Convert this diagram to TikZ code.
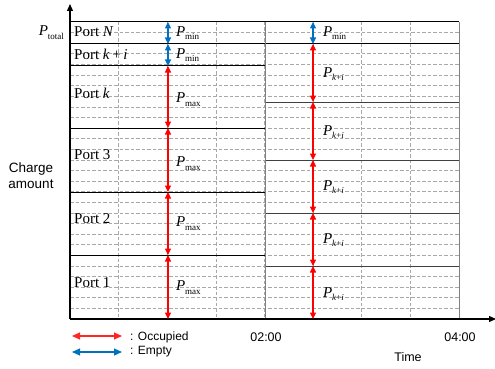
\documentclass[tikz,border=0pt]{standalone}
\usepackage{fontspec}
\setmainfont{Liberation Serif}
\setsansfont{Liberation Sans}
\usetikzlibrary{arrows.meta}
\definecolor{occ}{HTML}{FF0000}
\definecolor{emp}{HTML}{0070C0}
\definecolor{gridc}{HTML}{A8A8A8}
\definecolor{rline}{HTML}{404040}
\newcommand{\Psub}[1]{\textit{P}\kern-0.2pt\raisebox{-0.55ex}{\fontsize{9}{9}\selectfont #1}}
\newcommand{\Pki}{\textit{P}\kern-0.2pt\raisebox{-0.55ex}{\fontsize{9}{9}\selectfont\textit{k}+\textit{i}}}
\begin{document}
\begin{tikzpicture}[x=1pt,y=-1pt,
  gridline/.style={draw=gridc, dash pattern=on 3.5pt off 2pt, line width=0.7pt},
  leftsep/.style={draw=black, line width=1pt},
  rightsep/.style={draw=rline, line width=1pt},
  vsep/.style={draw=gray, line width=0.9pt},
  axis/.style={draw=black, line width=1.2pt, -{Triangle[width=6pt,length=7pt]}},
  occarrow/.style={draw=occ, line width=1.1pt, {Triangle[width=6pt,length=6.5pt]}-{Triangle[width=6pt,length=6.5pt]}},
  emparrow/.style={draw=emp, line width=1.1pt, {Triangle[width=6pt,length=6.5pt]}-{Triangle[width=6pt,length=6.5pt]}},
  portlbl/.style={anchor=west, inner sep=0pt, font=\fontsize{15}{15}\selectfont},
  plbl/.style={anchor=west, inner sep=0pt, font=\fontsize{15}{15}\selectfont},
  sanslbl/.style={inner sep=0pt, font=\sffamily\fontsize{12.5}{15}\selectfont},
  legtext/.style={anchor=west, inner sep=0pt, font=\sffamily\fontsize{12}{14}\selectfont}]
\useasboundingbox (0,0) rectangle (495,369);

% dashed grid
\foreach \n in {1,...,27}{
  \pgfmathsetmacro{\yy}{319-\n*10.607}
  \draw[gridline] (70,\yy) -- (459,\yy);
}
\foreach \n in {1,...,7}{
  \pgfmathsetmacro{\xx}{70+\n*48.625}
  \draw[gridline] (\xx,22) -- (\xx,319);
}

% separators
\draw[leftsep] (70,22) -- (459,22);
\draw[leftsep] (70,44) -- (459,44);
\foreach \yy in {66,128,192,255}{
  \draw[leftsep] (70,\yy) -- (265,\yy);
}
\foreach \yy in {102,160,213,266}{
  \draw[rightsep] (265,\yy) -- (459,\yy);
}
\draw[vsep] (265,22) -- (265,319);
\draw[vsep] (459,22) -- (459,319);

% axes
\coordinate (O) at (70,319);
\coordinate (Ytop) at (70,4);
\coordinate (Xend) at (496,319);
\draw[axis] (O) -- (Ytop);
\draw[axis] (O) -- (Xend);

% left column arrows
\coordinate (a0) at (168,22);
\coordinate (a1) at (168,44);
\coordinate (a2) at (168,66);
\coordinate (a3) at (168,128);
\coordinate (a4) at (168,192);
\coordinate (a5) at (168,255);
\coordinate (a6) at (168,319);
\draw[emparrow] (a0) -- (a1);
\draw[emparrow] (a1) -- (a2);
\draw[occarrow] (a2) -- (a3);
\draw[occarrow] (a3) -- (a4);
\draw[occarrow] (a4) -- (a5);
\draw[occarrow] (a5) -- (a6);

% right column arrows
\coordinate (b0) at (313,22);
\coordinate (b1) at (313,44);
\coordinate (b2) at (313,102);
\coordinate (b3) at (313,160);
\coordinate (b4) at (313,213);
\coordinate (b5) at (313,266);
\coordinate (b6) at (313,319);
\draw[emparrow] (b0) -- (b1);
\draw[occarrow] (b1) -- (b2);
\draw[occarrow] (b2) -- (b3);
\draw[occarrow] (b3) -- (b4);
\draw[occarrow] (b4) -- (b5);
\draw[occarrow] (b5) -- (b6);

% port labels
\node[portlbl] (pN) at (74,32) {Port \textit{N}};
\node[portlbl] (pki) at (74,54) {Port \textit{k}\,+\,\textit{i}};
\node[portlbl] (pk) at (74,93) {Port \textit{k}};
\node[portlbl] (p3) at (74,155) {Port 3};
\node[portlbl] (p2) at (74,219) {Port 2};
\node[portlbl] (p1) at (74,283) {Port 1};

% P labels left
\node[plbl] (lm1) at (176,33) {\Psub{min}};
\node[plbl] (lm2) at (176,55) {\Psub{min}};
\node[plbl] (lx1) at (176,100) {\Psub{max}};
\node[plbl] (lx2) at (176,164) {\Psub{max}};
\node[plbl] (lx3) at (176,224) {\Psub{max}};
\node[plbl] (lx4) at (176,288) {\Psub{max}};

% P labels right
\node[plbl] (rm1) at (323,33) {\Psub{min}};
\node[plbl] (rk1) at (323,74) {\Pki};
\node[plbl] (rk2) at (323,132) {\Pki};
\node[plbl] (rk3) at (323,187) {\Pki};
\node[plbl] (rk4) at (323,240) {\Pki};
\node[plbl] (rk5) at (323,294) {\Pki};

% axis labels
\node[anchor=east, inner sep=0pt, font=\fontsize{15}{15}\selectfont] (ptot) at (64,33) {\Psub{total}};
\node[inner sep=0pt, align=center, font=\sffamily\fontsize{13.5}{16}\selectfont] (charge) at (31,176) {Charge\\amount};
\node[sanslbl] (t2) at (266,337) {02:00};
\node[sanslbl] (t4) at (460,337) {04:00};
\node[sanslbl] (time) at (408,357) {Time};

% legend
\coordinate (lo1) at (72,336);
\coordinate (lo2) at (122,336);
\coordinate (le1) at (72,352);
\coordinate (le2) at (122,352);
\draw[draw=occ!85, line width=1.2pt, {Triangle[width=7pt,length=8pt]}-{Triangle[width=7pt,length=8pt]}] (lo1) -- (lo2);
\draw[draw=emp, line width=1.2pt, {Triangle[width=7pt,length=8pt]}-{Triangle[width=7pt,length=8pt]}] (le1) -- (le2);
\node[legtext] (occtxt) at (130,337) {: Occupied};
\node[legtext] (emptxt) at (130,352) {: Empty};
\end{tikzpicture}
\end{document}
